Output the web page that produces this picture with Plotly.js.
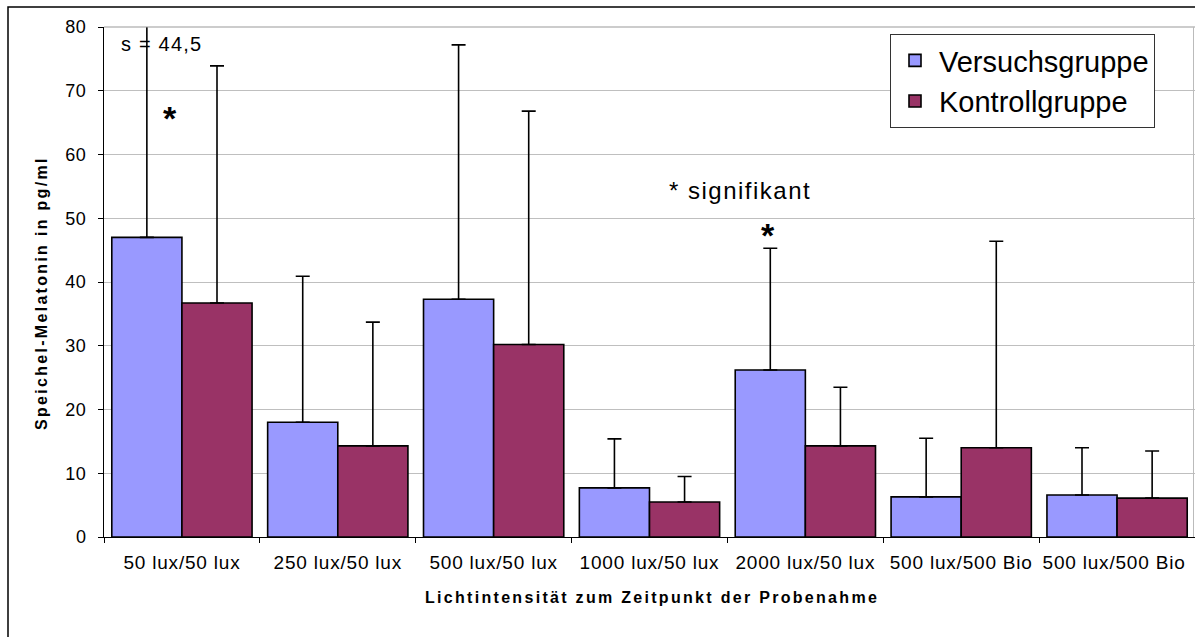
<!DOCTYPE html>
<html>
<head>
<meta charset="utf-8">
<script src="https://cdn.plot.ly/plotly-3.0.1.min.js"></script>
<style>
html,body{margin:0;padding:0;background:#fff;}
#chart{width:1195px;height:637px;}
.xtick text{letter-spacing:0.8px;}
.ytick text{letter-spacing:0.5px;}
</style>
</head>
<body>
<div id="chart"></div>
<script>
const categories = ["50 lux/50 lux", "250 lux/50 lux", "500 lux/50 lux", "1000 lux/50 lux", "2000 lux/50 lux", "500 lux/500 Bio", "500 lux/500 Bio "];
const versuchValues = [47.0, 18.0, 37.3, 7.7, 26.2, 6.3, 6.6];
const versuchErrors = [44.5, 22.9, 39.9, 7.7, 19.1, 9.2, 7.4];
const kontrollValues = [36.7, 14.3, 30.2, 5.5, 14.3, 14.0, 6.1];
const kontrollErrors = [37.2, 19.4, 36.6, 4.0, 9.2, 32.4, 7.4];
const seriesNames = ["Versuchsgruppe", "Kontrollgruppe"];
const xTitle = "Lichtintensität zum Zeitpunkt der Probenahme";
const yTitle = "Speichel-Melatonin in pg/ml";

const FONT = "Liberation Sans, Arial, sans-serif";
const W = 1195, H = 637, L = 104, R = 0, T = 27, B = 100;
const pw = W - L - R, ph = H - T - B;
const px = v => (v - L) / pw;
const py = v => (H - B - v) / ph;
const spaced = (t, s) => '<span style="letter-spacing:' + s + 'px">' + t + '</span>';

function errCfg(arr){
  return {type:'data', array:arr, symmetric:false, arrayminus:arr.map(()=>0),
          color:'#000', thickness:1.6, width:7, visible:true};
}

const traces = [
  {type:'bar', name:seriesNames[0], x:categories, y:versuchValues, error_y:errCfg(versuchErrors),
   marker:{color:'#9999FF', line:{color:'#000', width:1.6}}, legendgroup:'a'},
  {type:'bar', name:seriesNames[1], x:categories, y:kontrollValues, error_y:errCfg(kontrollErrors),
   marker:{color:'#993366', line:{color:'#000', width:1.6}}, legendgroup:'b'}
];

const layout = {
  width:W, height:H,
  margin:{l:L, r:R, t:T, b:B, pad:0},
  paper_bgcolor:'#fff', plot_bgcolor:'#fff',
  font:{family:FONT, color:'#000'},
  barmode:'group', bargap:0.1, bargroupgap:0,
  showlegend:true,
  legend:{x:px(890), y:py(34), xanchor:'left', yanchor:'top',
          bordercolor:'#333', borderwidth:1, bgcolor:'#fff',
          font:{family:FONT, size:29, color:'#000'},
          traceorder:'grouped', tracegroupgap:0, itemwidth:38},
  xaxis:{type:'category', showgrid:false, showline:true, linecolor:'#000', linewidth:1,
         ticks:'outside', ticklen:5, tickcolor:'#000', tickson:'boundaries',
         tickfont:{family:FONT, size:19}, ticklabelstandoff:8, zeroline:false},
  yaxis:{range:[0,80], dtick:10, showgrid:true, gridcolor:'#bfbfbf', gridwidth:1,
         showline:true, linecolor:'#000', linewidth:1, ticks:'outside', ticklen:5, tickcolor:'#000',
         tickfont:{family:FONT, size:18}, ticklabelstandoff:8, zeroline:false},
  shapes:[
    {type:'rect', xref:'paper', yref:'paper', x0:px(8), x1:px(1300), y0:py(700), y1:py(7),
     line:{color:'#000', width:1.5}, fillcolor:'rgba(0,0,0,0)', layer:'below'},
    {type:'line', xref:'paper', yref:'paper', x0:0, x1:1, y0:1, y1:1, line:{color:'#999', width:1}},
    {type:'line', xref:'paper', yref:'paper', x0:px(1193.5), x1:px(1193.5), y0:0, y1:1, line:{color:'#bbb', width:1}}
  ],
  annotations:[
    {text:spaced('<b>'+xTitle+'</b>', 2.3), xref:'paper', yref:'paper', x:px(652), y:py(597), xanchor:'center', yanchor:'middle', showarrow:false, font:{family:FONT, size:16}},
    {text:spaced('<b>'+yTitle+'</b>', 2.3), xref:'paper', yref:'paper', x:px(42), y:py(293), xanchor:'center', yanchor:'middle', textangle:-90, showarrow:false, font:{family:FONT, size:16}},
    {text:spaced('s = 44,5', 1.2), xref:'paper', yref:'paper', x:px(119), y:py(44), xanchor:'left', yanchor:'middle', showarrow:false, font:{family:FONT, size:20}},
    {text:'<b>*</b>', xref:'paper', yref:'paper', x:px(170), y:py(118), xanchor:'center', yanchor:'middle', showarrow:false, font:{family:FONT, size:34}},
    {text:spaced('* signifikant', 1.5), xref:'paper', yref:'paper', x:px(667), y:py(190), xanchor:'left', yanchor:'middle', showarrow:false, font:{family:FONT, size:24}},
    {text:'<b>*</b>', xref:'paper', yref:'paper', x:px(768), y:py(235), xanchor:'center', yanchor:'middle', showarrow:false, font:{family:FONT, size:34}}
  ]
};

Plotly.newPlot('chart', traces, layout, {staticPlot:true, displayModeBar:false});
</script>
</body>
</html>
